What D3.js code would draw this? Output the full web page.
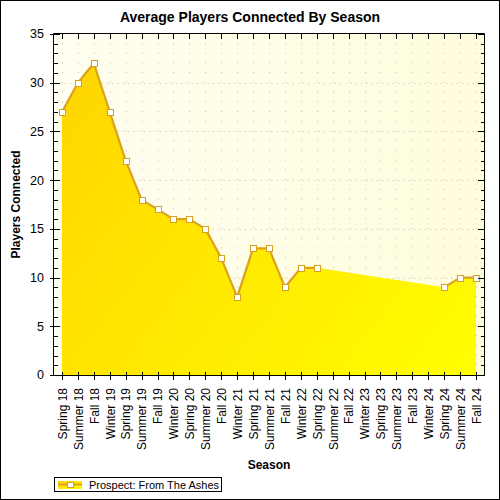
<!DOCTYPE html>
<html>
<head>
<meta charset="utf-8">
<script src="https://cdn.jsdelivr.net/npm/d3@7"></script>
<style>
  html, body { margin: 0; padding: 0; background: #fff; }
  svg { display: block; }
  text { font-family: "Liberation Sans", Arial, sans-serif; fill: #000; }
</style>
</head>
<body>
<div id="chart"></div>
<script>
const chartTitle = "Average Players Connected By Season";
const xTitle = "Season";
const yTitle = "Players Connected";
const seriesName = "Prospect: From The Ashes";
const seasons = ["Spring 18","Summer 18","Fall 18","Winter 19","Spring 19","Summer 19","Fall 19","Winter 20","Spring 20","Summer 20","Fall 20","Winter 21","Spring 21","Summer 21","Fall 21","Winter 22","Spring 22","Summer 22","Fall 22","Winter 23","Spring 23","Summer 23","Fall 23","Winter 24","Spring 24","Summer 24","Fall 24"];
const players = [27,30,32,27,22,18,17,16,16,15,12,8,13,13,9,11,11,null,null,null,null,null,null,null,9,10,10];
const yMajorTicks = [0,5,10,15,20,25,30,35];
const yMinorTicks = d3.range(0, 36, 1);

const W = 500, H = 500;
const L = 54, R = 484, T = 34, B = 375;

const svg = d3.select("#chart").append("svg").attr("width", W).attr("height", H);
const defs = svg.append("defs");

const bg = defs.append("linearGradient").attr("id", "bgGrad")
  .attr("gradientUnits", "userSpaceOnUse").attr("x1", L).attr("y1", T).attr("x2", R).attr("y2", T);
bg.append("stop").attr("offset", "0%").attr("stop-color", "#FFFEF0");
bg.append("stop").attr("offset", "100%").attr("stop-color", "#FFFDDC");

const ag = defs.append("linearGradient").attr("id", "areaGrad")
  .attr("gradientUnits", "userSpaceOnUse").attr("x1", L).attr("y1", T).attr("x2", R).attr("y2", B);
ag.append("stop").attr("offset", "0%").attr("stop-color", "#FFD200");
ag.append("stop").attr("offset", "100%").attr("stop-color", "#FFFF00");

const lg = defs.append("linearGradient").attr("id", "legGrad")
  .attr("x1", "0").attr("y1", "0").attr("x2", "1").attr("y2", "1");
lg.append("stop").attr("offset", "0%").attr("stop-color", "#FFD200");
lg.append("stop").attr("offset", "100%").attr("stop-color", "#FFFF00");

// outer border
svg.append("rect").attr("x", 0.5).attr("y", 0.5).attr("width", W - 1).attr("height", H - 1)
  .attr("fill", "#fff").attr("stroke", "#000").attr("stroke-width", 1);

const x = d3.scaleBand().domain(seasons).range([L, R]).padding(0);
const y = d3.scaleLinear().domain([0, 35]).range([B, T]);
const cx = s => x(s) + x.bandwidth() / 2;

// plot background
svg.append("rect").attr("x", L).attr("y", T).attr("width", R - L).attr("height", B - T)
  .attr("fill", "url(#bgGrad)");

// grid
const grid = svg.append("g").attr("stroke", "#BEBEBE").attr("stroke-width", 1).attr("fill", "none");
grid.selectAll("line.v").data(seasons).join("line")
  .attr("x1", d => Math.round(cx(d)) + 0.5).attr("x2", d => Math.round(cx(d)) + 0.5)
  .attr("y1", B).attr("y2", T)
  .attr("stroke-dasharray", "1," + (y(0) - y(1) - 1).toFixed(2));
grid.selectAll("line.h").data(yMajorTicks.filter(v => v > 0 && v < 35)).join("line")
  .attr("x1", L).attr("x2", R)
  .attr("y1", d => Math.round(y(d)) + 0.5).attr("y2", d => Math.round(y(d)) + 0.5)
  .attr("stroke-dasharray", "1,4.3");

// area (connects across missing values)
const valid = seasons.map((s, i) => ({ s, v: players[i] })).filter(d => d.v != null);
const area = d3.area().x(d => cx(d.s)).y0(y(0)).y1(d => y(d.v));
svg.append("path").datum(valid).attr("d", area).attr("fill", "url(#areaGrad)");

// line (breaks at missing values)
const all = seasons.map((s, i) => ({ s, v: players[i] }));
const line = d3.line().defined(d => d.v != null).x(d => cx(d.s)).y(d => y(d.v));
svg.append("path").datum(all).attr("d", line).attr("fill", "none")
  .attr("stroke", "#DAA21E").attr("stroke-width", 2.2).attr("stroke-linejoin", "round");

// markers
svg.selectAll("rect.mk").data(valid).join("rect")
  .attr("x", d => Math.round(cx(d.s)) - 2.5).attr("y", d => Math.round(y(d.v)) - 2.5)
  .attr("width", 6).attr("height", 6)
  .attr("fill", "#fff").attr("stroke", "#D9A020").attr("stroke-width", 1);

// frame
const frame = svg.append("g").attr("stroke", "#000").attr("stroke-width", 1).attr("fill", "none");
frame.append("line").attr("x1", L - 0.5).attr("x2", R + 0.5).attr("y1", T - 0.5).attr("y2", T - 0.5);
frame.append("line").attr("x1", R + 0.5).attr("x2", R + 0.5).attr("y1", T - 0.5).attr("y2", B + 0.5);
frame.append("line").attr("x1", L - 3).attr("x2", R + 0.5).attr("y1", B + 0.5).attr("y2", B + 0.5);
frame.append("line").attr("x1", L - 0.5).attr("x2", L - 0.5).attr("y1", T - 0.5).attr("y2", B + 0.5);

// y ticks left
frame.selectAll("line.ymin").data(yMinorTicks).join("line")
  .attr("x1", L - 0.5).attr("x2", L + 4)
  .attr("y1", d => Math.round(y(d)) + 0.5).attr("y2", d => Math.round(y(d)) + 0.5);
frame.selectAll("line.ymaj").data(yMajorTicks).join("line")
  .attr("x1", L - 4).attr("x2", L + 6)
  .attr("y1", d => Math.round(y(d)) + 0.5).attr("y2", d => Math.round(y(d)) + 0.5);
// y ticks right (mirrored)
frame.selectAll("line.rmin").data(yMinorTicks).join("line")
  .attr("x1", R + 0.5).attr("x2", R - 3)
  .attr("y1", d => Math.round(y(d)) + 0.5).attr("y2", d => Math.round(y(d)) + 0.5);
frame.selectAll("line.rmaj").data(yMajorTicks).join("line")
  .attr("x1", R + 0.5).attr("x2", R - 6)
  .attr("y1", d => Math.round(y(d)) + 0.5).attr("y2", d => Math.round(y(d)) + 0.5);
// x ticks bottom & top
frame.selectAll("line.xb").data(seasons).join("line")
  .attr("x1", d => Math.round(cx(d)) + 0.5).attr("x2", d => Math.round(cx(d)) + 0.5)
  .attr("y1", B - 3).attr("y2", B + 5);
frame.selectAll("line.xt").data(seasons).join("line")
  .attr("x1", d => Math.round(cx(d)) + 0.5).attr("x2", d => Math.round(cx(d)) + 0.5)
  .attr("y1", T - 0.5).attr("y2", T + 5);

// y labels
svg.selectAll("text.yl").data(yMajorTicks).join("text")
  .attr("x", L - 10).attr("y", d => y(d)).attr("dy", "0.35em")
  .attr("text-anchor", "end").attr("font-size", 12.5).text(d => d);

// x labels
svg.selectAll("text.xl").data(seasons).join("text")
  .attr("transform", d => `translate(${cx(d) + 0.5},${B + 13}) rotate(-90)`)
  .attr("dy", "0.36em").attr("text-anchor", "end").attr("font-size", 12).text(d => d);

// titles
svg.append("text").attr("x", 250).attr("y", 22).attr("text-anchor", "middle")
  .attr("font-size", 14).attr("font-weight", "bold").text(chartTitle);
svg.append("text").attr("x", (L + R) / 2).attr("y", 469).attr("text-anchor", "middle")
  .attr("font-size", 12).attr("font-weight", "bold").text(xTitle);
svg.append("text").attr("transform", `translate(20,${(T + B) / 2}) rotate(-90)`)
  .attr("text-anchor", "middle").attr("font-size", 12).attr("font-weight", "bold").text(yTitle);

// legend
const leg = svg.append("g");
leg.append("rect").attr("x", 54.5).attr("y", 477.5).attr("width", 167).attr("height", 14)
  .attr("fill", "#fff").attr("stroke", "#000").attr("stroke-width", 1);
leg.append("rect").attr("x", 58).attr("y", 481).attr("width", 24).attr("height", 8).attr("fill", "url(#legGrad)");
leg.append("line").attr("x1", 58).attr("x2", 82).attr("y1", 484.5).attr("y2", 484.5)
  .attr("stroke", "#DAA21E").attr("stroke-width", 2);
leg.append("rect").attr("x", 67.5).attr("y", 482.5).attr("width", 6).attr("height", 5)
  .attr("fill", "#fff").attr("stroke", "#D9A020");
leg.append("text").attr("x", 89).attr("y", 488.5).attr("font-size", 11).text(seriesName);
</script>
</body>
</html>
